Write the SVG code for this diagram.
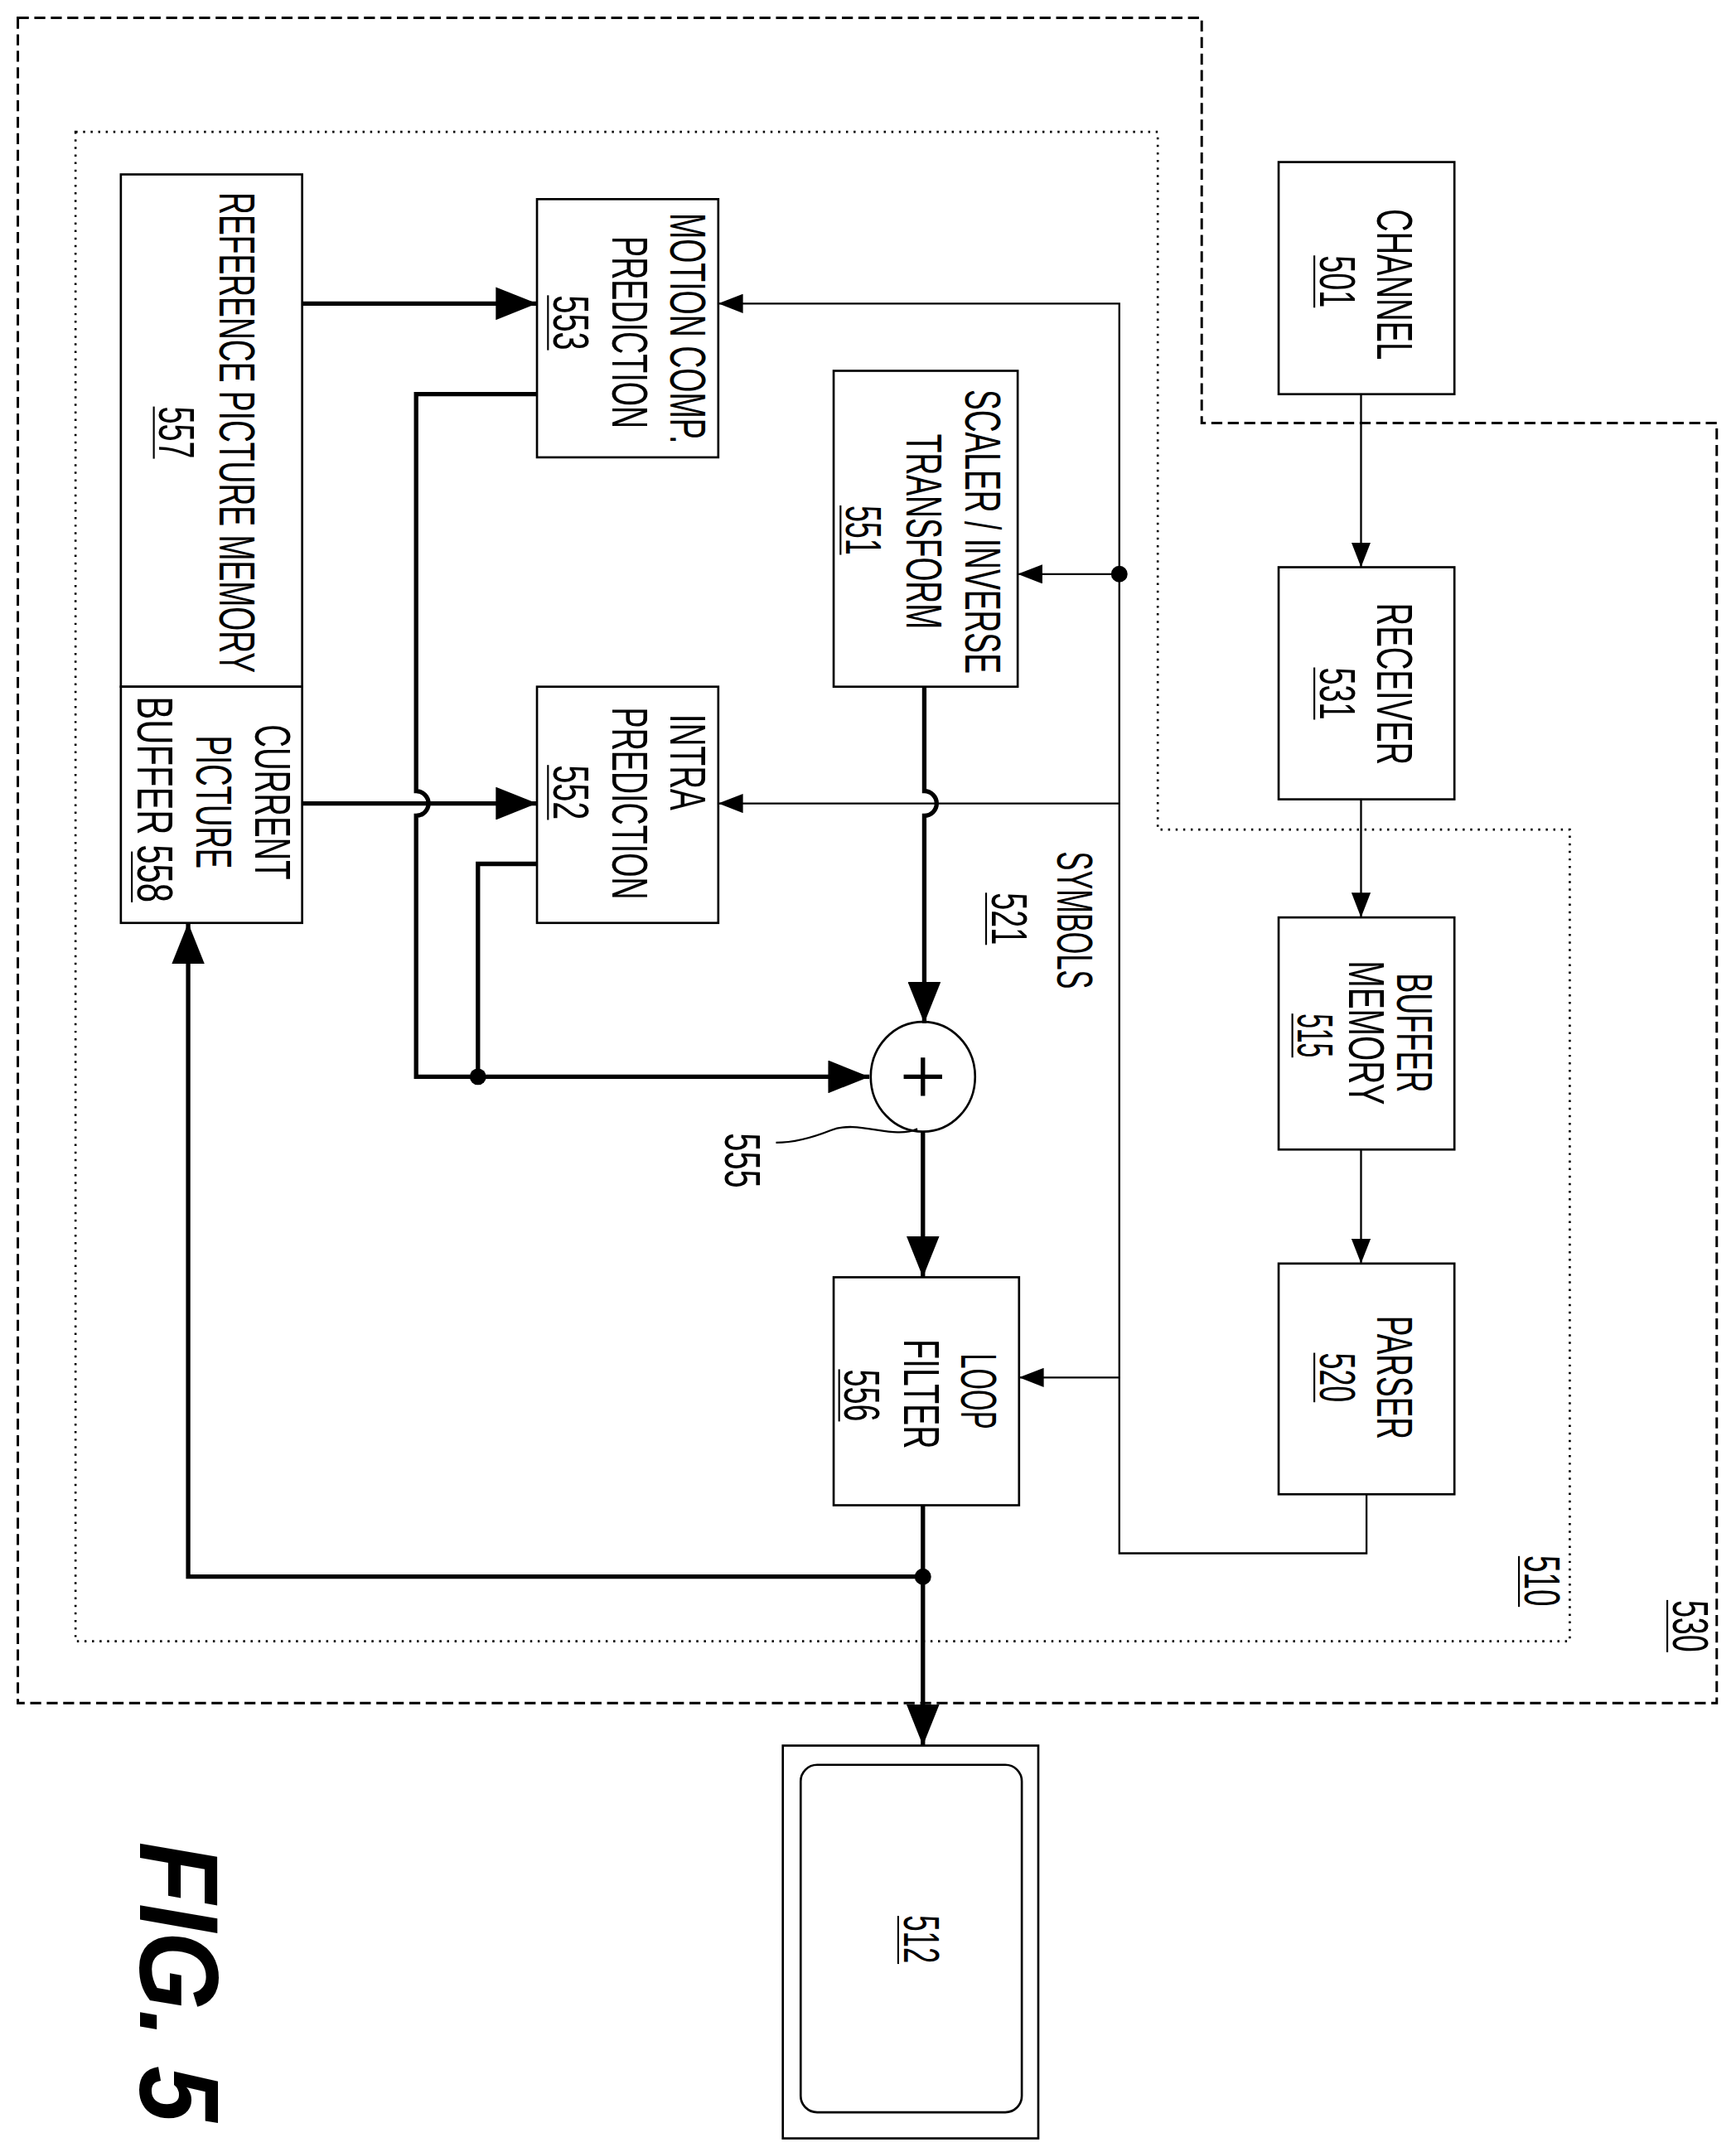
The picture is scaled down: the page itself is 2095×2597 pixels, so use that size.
<svg xmlns="http://www.w3.org/2000/svg" width="2095" height="2597" viewBox="0 0 2095 2597">
<style>
.box{fill:none;stroke:#000;stroke-width:1.6}
.t{font-family:"Liberation Sans",Arial,sans-serif;font-size:37px;fill:#000;text-anchor:middle}
.thin{fill:none;stroke:#000;stroke-width:1.4}
.thick{fill:none;stroke:#000;stroke-width:3.2}
.ul{stroke:#000;stroke-width:1.3}
</style>
<defs>
<marker id="ah" markerUnits="userSpaceOnUse" markerWidth="20" markerHeight="14" refX="18" refY="7" orient="auto"><path d="M0,0 L18,7 L0,14 z" fill="#000"/></marker>
<marker id="AH" markerUnits="userSpaceOnUse" markerWidth="32" markerHeight="24" refX="30" refY="12" orient="auto"><path d="M0,0 L30,12 L0,24 z" fill="#000"/></marker>
</defs>
<rect width="2095" height="2597" fill="#fff"/>
<g transform="scale(1.6574)">
<g id="boundary-530">
<path d="M13,13 H875 V308 H1250 V1240 H13 Z" fill="none" stroke="#000" stroke-width="1.8" stroke-dasharray="8,4"/>
<text class="t" transform="translate(1218,1184) rotate(90)" textLength="38" lengthAdjust="spacingAndGlyphs">530</text>
<line class="ul" x1="1214" y1="1165" x2="1214" y2="1203"/>
</g>
<g id="boundary-510">
<path d="M55,96 H843 V604 H1143 V1195 H55 Z" fill="none" stroke="#000" stroke-width="1.6" stroke-dasharray="1.5,4"/>
<text class="t" transform="translate(1110,1151) rotate(90)" textLength="37" lengthAdjust="spacingAndGlyphs">510</text>
<line class="ul" x1="1106" y1="1133" x2="1106" y2="1170"/>
</g>
<g id="channel-501">
<rect class="box" x="931" y="118" width="128" height="169"/>
<text class="t" transform="translate(1003,207) rotate(90)" textLength="110" lengthAdjust="spacingAndGlyphs">CHANNEL</text>
<text class="t" transform="translate(961,205) rotate(90)" textLength="38" lengthAdjust="spacingAndGlyphs">501</text>
<line class="ul" x1="957" y1="186" x2="957" y2="224"/>
</g>
<g id="receiver-531">
<rect class="box" x="931" y="413" width="128" height="169"/>
<text class="t" transform="translate(1003,498) rotate(90)" textLength="118" lengthAdjust="spacingAndGlyphs">RECEIVER</text>
<text class="t" transform="translate(961,505) rotate(90)" textLength="38" lengthAdjust="spacingAndGlyphs">531</text>
<line class="ul" x1="957" y1="486" x2="957" y2="524"/>
</g>
<g id="buffer-515">
<rect class="box" x="931" y="668" width="128" height="169"/>
<text class="t" transform="translate(1017,752) rotate(90)" textLength="87" lengthAdjust="spacingAndGlyphs">BUFFER</text>
<text class="t" transform="translate(982,752) rotate(90)" textLength="105" lengthAdjust="spacingAndGlyphs">MEMORY</text>
<text class="t" transform="translate(945,754) rotate(90)" textLength="32" lengthAdjust="spacingAndGlyphs">515</text>
<line class="ul" x1="941" y1="738" x2="941" y2="770"/>
</g>
<g id="parser-520">
<rect class="box" x="931" y="920" width="128" height="168"/>
<text class="t" transform="translate(1003,1003) rotate(90)" textLength="90" lengthAdjust="spacingAndGlyphs">PARSER</text>
<text class="t" transform="translate(961,1003) rotate(90)" textLength="36" lengthAdjust="spacingAndGlyphs">520</text>
<line class="ul" x1="957" y1="985" x2="957" y2="1021"/>
</g>
<g id="scaler-551">
<rect class="box" x="607" y="270" width="134" height="230"/>
<text class="t" transform="translate(703,387) rotate(90)" textLength="207" lengthAdjust="spacingAndGlyphs">SCALER / INVERSE</text>
<text class="t" transform="translate(660,387) rotate(90)" textLength="142" lengthAdjust="spacingAndGlyphs">TRANSFORM</text>
<text class="t" transform="translate(616,386) rotate(90)" textLength="36" lengthAdjust="spacingAndGlyphs">551</text>
<line class="ul" x1="612" y1="368" x2="612" y2="404"/>
</g>
<g id="mc-553">
<rect class="box" x="391" y="145" width="132" height="188"/>
<text class="t" transform="translate(488,239) rotate(90)" textLength="168" lengthAdjust="spacingAndGlyphs">MOTION COMP.</text>
<text class="t" transform="translate(446,242) rotate(90)" textLength="140" lengthAdjust="spacingAndGlyphs">PREDICTION</text>
<text class="t" transform="translate(403,235) rotate(90)" textLength="40" lengthAdjust="spacingAndGlyphs">553</text>
<line class="ul" x1="399" y1="215" x2="399" y2="255"/>
</g>
<g id="intra-552">
<rect class="box" x="391" y="500" width="132" height="172"/>
<text class="t" transform="translate(488,555) rotate(90)" textLength="70" lengthAdjust="spacingAndGlyphs">INTRA</text>
<text class="t" transform="translate(446,585) rotate(90)" textLength="140" lengthAdjust="spacingAndGlyphs">PREDICTION</text>
<text class="t" transform="translate(403,577) rotate(90)" textLength="40" lengthAdjust="spacingAndGlyphs">552</text>
<line class="ul" x1="399" y1="557" x2="399" y2="597"/>
</g>
<g id="refpic-557">
<rect class="box" x="88" y="127" width="132" height="373"/>
<text class="t" transform="translate(160,315) rotate(90)" textLength="350" lengthAdjust="spacingAndGlyphs">REFERENCE PICTURE MEMORY</text>
<text class="t" transform="translate(116,315) rotate(90)" textLength="38" lengthAdjust="spacingAndGlyphs">557</text>
<line class="ul" x1="112" y1="296" x2="112" y2="334"/>
</g>
<g id="curpic-558">
<rect class="box" x="88" y="500" width="132" height="172"/>
<text class="t" transform="translate(186,584) rotate(90)" textLength="113" lengthAdjust="spacingAndGlyphs">CURRENT</text>
<text class="t" transform="translate(143,584) rotate(90)" textLength="97" lengthAdjust="spacingAndGlyphs">PICTURE</text>
<text class="t" transform="translate(100,582) rotate(90)" textLength="150" lengthAdjust="spacingAndGlyphs">BUFFER 558</text>
<line class="ul" x1="96" y1="620" x2="96" y2="657"/>
</g>
<g id="adder-555">
<ellipse cx="672" cy="784" rx="38" ry="40" fill="#fff" stroke="#000" stroke-width="1.6"/>
<path d="M672,770 V798 M658,784 H686" stroke="#000" stroke-width="3.2"/>
<path class="thin" d="M668,822 C650,830 625,815 605,823 C590,829 578,832 565,832"/>
<text class="t" transform="translate(528,845) rotate(90)" textLength="40" lengthAdjust="spacingAndGlyphs">555</text>
</g>
<g id="loopfilter-556">
<rect class="box" x="607" y="930" width="135" height="166"/>
<text class="t" transform="translate(700,1013) rotate(90)" textLength="55" lengthAdjust="spacingAndGlyphs">LOOP</text>
<text class="t" transform="translate(658,1015) rotate(90)" textLength="80" lengthAdjust="spacingAndGlyphs">FILTER</text>
<text class="t" transform="translate(615,1016) rotate(90)" textLength="38" lengthAdjust="spacingAndGlyphs">556</text>
<line class="ul" x1="611" y1="997" x2="611" y2="1035"/>
</g>
<g id="display-512">
<rect class="box" x="570" y="1271" width="186" height="286"/>
<rect class="box" x="583" y="1285" width="161" height="253" rx="12"/>
<text class="t" transform="translate(658,1412) rotate(90)" textLength="35" lengthAdjust="spacingAndGlyphs">512</text>
<line class="ul" x1="654" y1="1395" x2="654" y2="1430"/>
</g>
<g id="symbols-521">
<text class="t" transform="translate(770,670) rotate(90)" textLength="100" lengthAdjust="spacingAndGlyphs">SYMBOLS</text>
<text class="t" transform="translate(722,669) rotate(90)" textLength="38" lengthAdjust="spacingAndGlyphs">521</text>
<line class="ul" x1="718" y1="650" x2="718" y2="688"/>
</g>
<g id="fig-label">
<text transform="translate(102,1443) rotate(90)" text-anchor="middle" font-family="Liberation Sans,Arial,sans-serif" font-weight="bold" font-style="italic" font-size="82" textLength="204" lengthAdjust="spacingAndGlyphs">FIG. 5</text>
</g>
<g id="connectors">
<path class="thin" d="M991,287 V413" marker-end="url(#ah)"/>
<path class="thin" d="M991,582 V668" marker-end="url(#ah)"/>
<path class="thin" d="M991,837 V920" marker-end="url(#ah)"/>
<path class="thin" d="M995,1088 V1131 H815 V221 H523" marker-end="url(#ah)"/>
<path class="thin" d="M815,418 H741" marker-end="url(#ah)"/>
<path class="thin" d="M815,585 H523" marker-end="url(#ah)"/>
<path class="thin" d="M815,1003 H742" marker-end="url(#ah)"/>
<circle cx="815" cy="418" r="6"/>
<path class="thick" d="M220,221 H391" marker-end="url(#AH)"/>
<path class="thick" d="M220,585 H391" marker-end="url(#AH)"/>
<path class="thick" d="M673,500 V576 A9,9 0 0 1 673,594 V745" marker-end="url(#AH)"/>
<path class="thick" d="M391,287 H303 V576 A9,9 0 0 1 303,594 V784 H633" marker-end="url(#AH)"/>
<path class="thick" d="M391,629 H348 V784"/>
<circle cx="348" cy="784" r="6"/>
<path class="thick" d="M672,824 V930" marker-end="url(#AH)"/>
<path class="thick" d="M672,1096 V1271" marker-end="url(#AH)"/>
<path class="thick" d="M672,1148 H137 V672" marker-end="url(#AH)"/>
<circle cx="672" cy="1148" r="6"/>
</g>
</g>
</svg>
